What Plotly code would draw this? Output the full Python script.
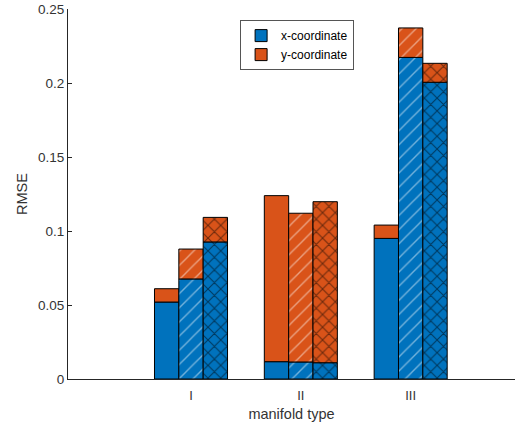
import plotly.graph_objects as go

categories = ["I", "II", "III"]
# stacked components for three bar series per group
x_coord_1 = [0.052, 0.0117, 0.095]
y_coord_1 = [0.009, 0.1122, 0.009]
x_coord_2 = [0.0676, 0.0115, 0.2173]
y_coord_2 = [0.0202, 0.1005, 0.0199]
x_coord_3 = [0.0926, 0.011, 0.2005]
y_coord_3 = [0.0166, 0.1088, 0.0128]
y_tick_vals = [0, 0.05, 0.1, 0.15, 0.2, 0.25]
y_tick_text = ["0", "0.05", "0.1", "0.15", "0.2", "0.25"]

blue = "#0072BD"
orange = "#D95319"
font_family = "Liberation Sans, Arial, sans-serif"
txt = "#333333"

series = [
    (x_coord_1, y_coord_1, "", "white", 10, 0.1),
    (x_coord_2, y_coord_2, "/", "rgba(255,255,255,0.9)", 10, 0.14),
    (x_coord_3, y_coord_3, "x", "black", 9, 0.22),
]

fig = go.Figure()
for k, (xs, ys, shape, fg, psize, psol) in enumerate(series):
    fig.add_trace(go.Bar(
        x=categories, y=xs, offsetgroup=str(k), name="x-coordinate",
        legendgroup="x", showlegend=(k == 0),
        marker=dict(color=blue, line=dict(color="black", width=1),
                    pattern=dict(shape=shape, fgcolor=fg, bgcolor=blue,
                                 size=psize, solidity=psol)),
    ))
    fig.add_trace(go.Bar(
        x=categories, y=ys, base=xs, offsetgroup=str(k), name="y-coordinate",
        legendgroup="y", showlegend=(k == 0),
        marker=dict(color=orange, line=dict(color="black", width=1),
                    pattern=dict(shape=shape, fgcolor=fg, bgcolor=orange,
                                 size=psize, solidity=psol)),
    ))

fig.update_layout(
    width=527, height=428,
    margin=dict(l=68, r=12, t=9, b=49, autoexpand=False),
    barmode="group", bargap=0.335, bargroupgap=0,
    plot_bgcolor="white", paper_bgcolor="white",
    font=dict(family=font_family, size=13, color=txt),
    legend=dict(x=0.385, y=0.97, xanchor="left", yanchor="top",
                bgcolor="white", bordercolor="#555555", borderwidth=1,
                font=dict(size=12, color="black"), tracegroupgap=0,
                itemwidth=30),
    xaxis=dict(range=[-1.12, 2.95], showgrid=False, zeroline=False,
               showline=True, linecolor="#262626", linewidth=1,
               ticks="outside", ticklen=4, tickcolor="rgba(0,0,0,0)",
               tickfont=dict(size=13, color=txt),
               title=dict(text="manifold type", font=dict(size=14.5, color=txt), standoff=7)),
    yaxis=dict(range=[0, 0.25], tickvals=y_tick_vals, ticktext=y_tick_text,
               showgrid=False, zeroline=False, showline=True,
               linecolor="#262626", linewidth=1, ticks="inside", ticklen=4,
               tickcolor="#262626", tickfont=dict(size=13.5, color=txt),
               title=dict(text="RMSE", font=dict(size=14.5, color=txt), standoff=6)),
)

fig.write_html("out.html", config={"displayModeBar": False},
               post_script="document.body.style.margin='0';")
